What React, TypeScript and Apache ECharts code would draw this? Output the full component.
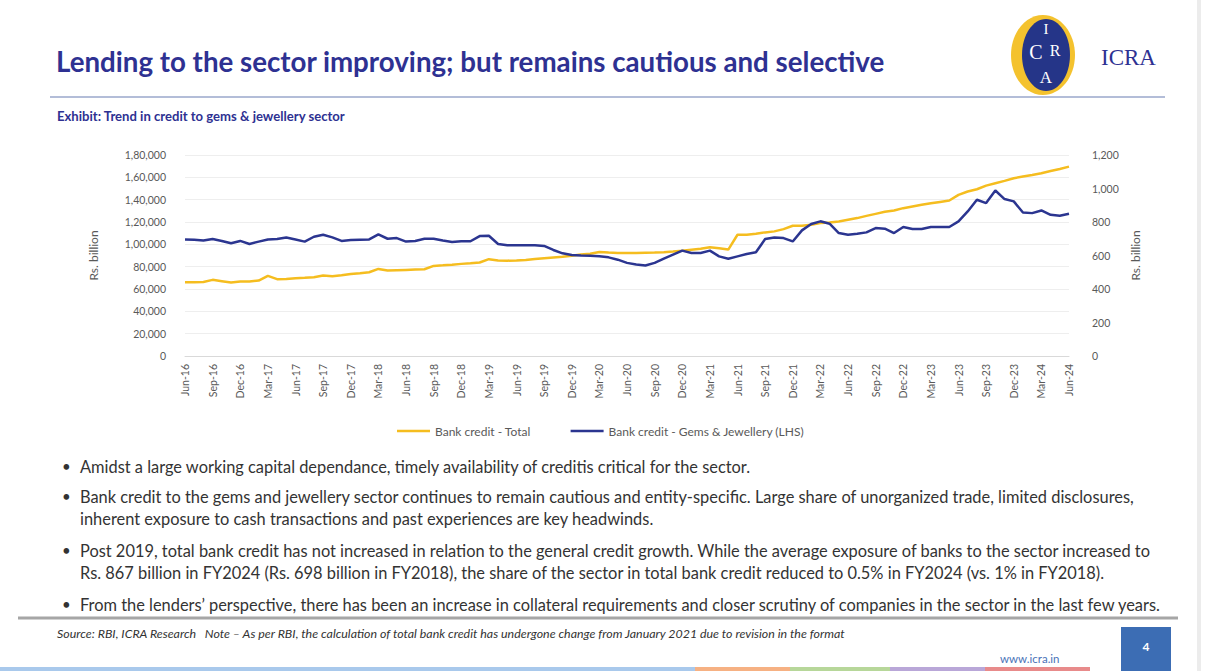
import React, { useEffect, useRef } from "react";
import * as echarts from "echarts";

const months = [
  "Jun-16", "Jul-16", "Aug-16", "Sep-16", "Oct-16", "Nov-16", "Dec-16",
  "Jan-17", "Feb-17", "Mar-17", "Apr-17", "May-17", "Jun-17", "Jul-17", "Aug-17", "Sep-17", "Oct-17", "Nov-17", "Dec-17",
  "Jan-18", "Feb-18", "Mar-18", "Apr-18", "May-18", "Jun-18", "Jul-18", "Aug-18", "Sep-18", "Oct-18", "Nov-18", "Dec-18",
  "Jan-19", "Feb-19", "Mar-19", "Apr-19", "May-19", "Jun-19", "Jul-19", "Aug-19", "Sep-19", "Oct-19", "Nov-19", "Dec-19",
  "Jan-20", "Feb-20", "Mar-20", "Apr-20", "May-20", "Jun-20", "Jul-20", "Aug-20", "Sep-20", "Oct-20", "Nov-20", "Dec-20",
  "Jan-21", "Feb-21", "Mar-21", "Apr-21", "May-21", "Jun-21", "Jul-21", "Aug-21", "Sep-21", "Oct-21", "Nov-21", "Dec-21",
  "Jan-22", "Feb-22", "Mar-22", "Apr-22", "May-22", "Jun-22", "Jul-22", "Aug-22", "Sep-22", "Oct-22", "Nov-22", "Dec-22",
  "Jan-23", "Feb-23", "Mar-23", "Apr-23", "May-23", "Jun-23", "Jul-23", "Aug-23", "Sep-23", "Oct-23", "Nov-23", "Dec-23",
  "Jan-24", "Feb-24", "Mar-24", "Apr-24", "May-24", "Jun-24",
];

// Bank credit - Total (Rs. billion, left axis)
const totalCredit = [
  66100, 66000, 66300, 68200, 67000, 65800, 66700, 66800, 67600, 71700,
  68800, 69000, 69700, 70000, 70500, 72000, 71500, 72300, 73500, 74200,
  75000, 78000, 76500, 76800, 77100, 77400, 77700, 80700, 81200, 81800,
  82500, 83000, 83700, 86700, 85600, 85400, 85500, 86000, 86800, 87600,
  88300, 88900, 89800, 90800, 91600, 93200, 92600, 92300, 92200, 92300,
  92500, 92700, 93000, 93500, 94300, 95200, 96000, 97400, 96500, 95300,
  108600, 108600, 109500, 110700, 111600, 113600, 116600, 116600, 117500, 119000,
  119600, 120500, 122000, 123500, 125500, 127300, 129100, 130300, 132400, 133900,
  135400, 136800, 138000, 139200, 144300, 147300, 149300, 152600, 154700, 156800,
  159200, 160700, 162100, 163600, 165700, 167500, 169600,
];

// Bank credit - Gems & Jewellery (Rs. billion, right axis)
const gemsCredit = [
  696, 694, 689, 698, 687, 673, 687, 669, 683, 696,
  698, 708, 696, 683, 712, 724, 708, 687, 692, 694,
  696, 726, 700, 704, 683, 687, 700, 700, 689, 681,
  685, 685, 716, 718, 669, 661, 661, 661, 661, 657,
  633, 613, 603, 600, 598, 595, 589, 575, 556, 546,
  540, 556, 581, 605, 629, 615, 615, 629, 595, 581,
  595, 609, 619, 698, 708, 704, 684, 750, 788, 804,
  790, 734, 724, 730, 738, 764, 760, 734, 770, 758,
  758, 770, 770, 770, 804, 863, 933, 913, 988, 937,
  923, 857, 853, 869, 843, 837, 849,
];

const seriesNames = ["Bank credit - Total", "Bank credit - Gems & Jewellery (LHS)"];
const leftAxis = { min: 0, max: 180000, interval: 20000 };
const rightAxis = { min: 0, max: 1200, interval: 200 };
const axisTitle = "Rs. billion";

const TITLE = "Lending to the sector improving; but remains cautious and selective";
const SUBTITLE = "Exhibit: Trend in credit to gems & jewellery sector";
const BULLETS = [
  ["Amidst a large working capital dependance, timely availability of creditis critical for the sector."],
  [
    "Bank credit to the gems and jewellery sector continues to remain cautious and entity-specific. Large share of unorganized trade, limited disclosures,",
    "inherent exposure to cash transactions and past experiences are key headwinds.",
  ],
  [
    "Post 2019, total bank credit has not increased in relation to the general credit growth. While the average exposure of banks to the sector increased to",
    "Rs. 867 billion in FY2024 (Rs. 698 billion in FY2018), the share of the sector in total bank credit reduced to 0.5% in FY2024 (vs. 1% in FY2018).",
  ],
  ["From the lenders\u2019 perspective, there has been an increase in collateral requirements and closer scrutiny of companies in the sector in the last few years."],
];
const FOOTNOTE =
  "Source: RBI, ICRA Research   Note \u2013 As per RBI, the calculation of total bank credit has undergone change from January 2021 due to revision in the format";
const PAGE_NO = "4";
const WEBSITE = "www.icra.in";
const BRAND = "ICRA";

const fmtIndian = (v: number) => {
  if (v >= 100000) {
    const l = Math.floor(v / 100000);
    const rest = v % 100000;
    const th = Math.floor(rest / 1000);
    const u = rest % 1000;
    return `${l},${String(th).padStart(2, "0")},${String(u).padStart(3, "0")}`;
  }
  return v.toLocaleString("en-US");
};
const fmtUS = (v: number) => v.toLocaleString("en-US");

const FONT = "Lato, 'Open Sans', sans-serif";
const NAVY = "#2E3192";

const txt = (
  text: string,
  x: number,
  y: number,
  font: string,
  fill: string,
  align: string = "left"
) => ({
  type: "text",
  x,
  y,
  silent: true,
  style: {
    text,
    font,
    fill,
    align,
    verticalAlign: "middle",
    textAlign: align,
    textVerticalAlign: "middle",
  },
});

export default function App() {
  const ref = useRef<HTMLDivElement>(null);

  useEffect(() => {
    if (!ref.current) return;
    const chart = echarts.init(ref.current, null, { renderer: "svg" });

    const graphics: any[] = [];
    // right page edge shade
    graphics.push({ type: "rect", shape: { x: 1197, y: 0, width: 4, height: 671 }, style: { fill: "#ececec" }, silent: true });
    // title
    graphics.push(txt(TITLE, 56, 61, `bold 27.7px ${FONT}`, NAVY));
    // underline
    graphics.push({ type: "line", shape: { x1: 50, y1: 97, x2: 1165, y2: 97 }, style: { stroke: "#b3bdd8", lineWidth: 2 }, silent: true });
    // logo
    graphics.push({ type: "ellipse", shape: { cx: 1043, cy: 55, rx: 32, ry: 40 }, style: { fill: "#F4C22E" }, silent: true });
    graphics.push({ type: "ellipse", shape: { cx: 1046, cy: 55, rx: 24, ry: 36 }, style: { fill: "#253588" }, silent: true });
    graphics.push(txt("I", 1046, 29, "15px 'Liberation Serif', serif", "#ffffff", "center"));
    graphics.push(txt("C", 1036, 52, "20px 'Liberation Serif', serif", "#ffffff", "center"));
    graphics.push(txt("R", 1055, 50, "16px 'Liberation Serif', serif", "#ffffff", "center"));
    graphics.push(txt("A", 1046, 77, "17px 'Liberation Serif', serif", "#ffffff", "center"));
    graphics.push(txt(BRAND, 1101, 57, "23px 'Liberation Serif', serif", NAVY));
    // subtitle
    graphics.push(txt(SUBTITLE, 57, 116, `bold 13.1px ${FONT}`, NAVY));

    // bullets
    const bulletYs = [[466], [496, 518], [550, 572], [604]];
    BULLETS.forEach((lines, i) => {
      graphics.push(txt("\u2022", 62, bulletYs[i][0], `15px ${FONT}`, "#333333"));
      lines.forEach((line, j) => {
        graphics.push(txt(line, 80, bulletYs[i][j], `16.4px ${FONT}`, "#333333"));
      });
    });
    // separator
    graphics.push({ type: "line", shape: { x1: 18, y1: 618, x2: 1178, y2: 618 }, style: { stroke: "#a6a6a6", lineWidth: 3 }, silent: true });
    // footnote
    graphics.push(txt(FOOTNOTE, 57, 633, `italic 12.4px ${FONT}`, "#333333"));
    // website
    graphics.push(txt(WEBSITE, 1000, 658, `11.5px ${FONT}`, "#4a72b8"));
    // page box
    graphics.push({ type: "rect", shape: { x: 1121, y: 627, width: 50, height: 44 }, style: { fill: "#3c6db4" }, silent: true });
    graphics.push(txt(PAGE_NO, 1146, 646, `bold 12px ${FONT}`, "#ffffff", "center"));
    // bottom colour strip
    const strip = [
      [0, 695, "#a9c9ec"],
      [695, 790, "#f6b183"],
      [790, 890, "#b7d79a"],
      [890, 985, "#b9a7d8"],
      [985, 1090, "#e88b8b"],
    ];
    strip.forEach(([a, b, c]) => {
      graphics.push({ type: "rect", shape: { x: a, y: 667, width: (b as number) - (a as number), height: 4 }, style: { fill: c }, silent: true });
    });

    const option: any = {
      animation: false,
      backgroundColor: "#ffffff",
      textStyle: { fontFamily: FONT },
      grid: { left: 185, right: 137, top: 155, bottom: 315, containLabel: false },
      legend: {
        data: seriesNames.map((n) => ({ name: n, icon: "rect" })),
        left: 392,
        top: 420,
        itemWidth: 33,
        itemHeight: 2.5,
        itemGap: 40,
        textStyle: { fontSize: 12, color: "#595959", fontFamily: FONT },
      },
      xAxis: {
        type: "category",
        data: months,
        boundaryGap: false,
        axisLine: { lineStyle: { color: "#d9d9d9", width: 1 } },
        axisTick: { show: false },
        axisLabel: { interval: 2, rotate: 90, fontSize: 10.5, color: "#595959", margin: 8, fontFamily: FONT },
        splitLine: { show: false },
      },
      yAxis: [
        {
          type: "value",
          position: "left",
          min: leftAxis.min,
          max: leftAxis.max,
          interval: leftAxis.interval,
          name: axisTitle,
          nameLocation: "middle",
          nameGap: 86,
          nameRotate: 90,
          nameTextStyle: { fontSize: 12, color: "#595959", fontFamily: FONT },
          axisLine: { show: false },
          axisTick: { show: false },
          axisLabel: { formatter: fmtIndian, fontSize: 10.5, color: "#595959", margin: 19, fontFamily: FONT },
          splitLine: { lineStyle: { color: "#eeeeee", width: 1 } },
        },
        {
          type: "value",
          position: "right",
          min: rightAxis.min,
          max: rightAxis.max,
          interval: rightAxis.interval,
          name: axisTitle,
          nameLocation: "middle",
          nameGap: 56,
          nameRotate: 90,
          nameTextStyle: { fontSize: 12, color: "#595959", fontFamily: FONT },
          axisLine: { show: false },
          axisTick: { show: false },
          axisLabel: { formatter: fmtUS, fontSize: 10.5, color: "#595959", margin: 23, fontFamily: FONT },
          splitLine: { show: false },
        },
      ],
      series: [
        {
          name: seriesNames[0],
          type: "line",
          data: totalCredit,
          yAxisIndex: 0,
          symbol: "none",
          lineStyle: { color: "#F5BD1F", width: 2.5 },
          itemStyle: { color: "#F5BD1F" },
        },
        {
          name: seriesNames[1],
          type: "line",
          data: gemsCredit,
          yAxisIndex: 1,
          symbol: "none",
          lineStyle: { color: "#2B3590", width: 2.5 },
          itemStyle: { color: "#2B3590" },
        },
      ],
      graphic: { elements: graphics },
    };

    chart.setOption(option);
    return () => chart.dispose();
  }, []);

  return (
    <div
      ref={ref}
      style={{ position: "fixed", left: 0, top: 0, width: 1206, height: 671, background: "#ffffff" }}
    />
  );
}
